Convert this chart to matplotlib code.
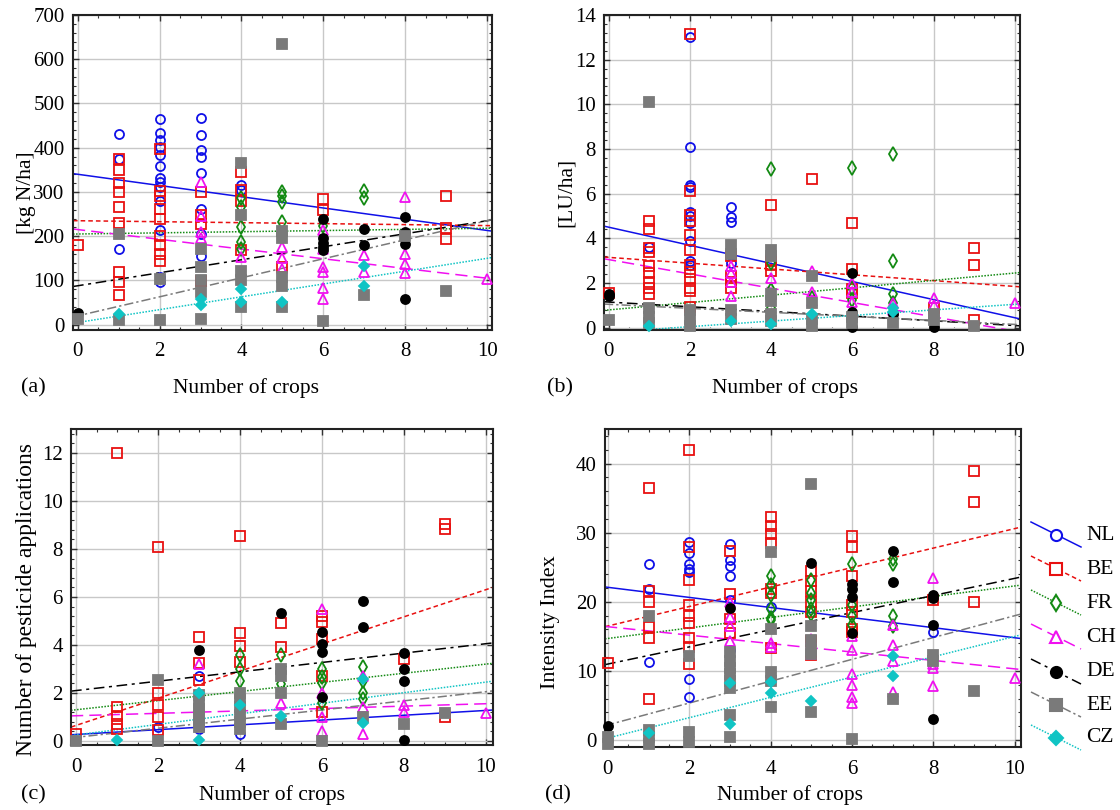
import matplotlib
matplotlib.use("Agg")
import matplotlib.pyplot as plt
import numpy as np
from matplotlib.lines import Line2D
from matplotlib.ticker import MultipleLocator, AutoMinorLocator

plt.rcParams['font.family'] = ['Liberation Serif', 'DejaVu Serif']

countries = ['NL', 'BE', 'FR', 'CH', 'DE', 'EE', 'CZ']

# ---------------- panel (a): kg N/ha ----------------
a_NL = {1: [432, 375, 170], 2: [465, 433, 418, 402, 383, 359, 332, 322, 312, 280, 214, 107, 97],
        3: [468, 428, 395, 380, 342, 262, 205, 155], 4: [315, 305]}
a_BE = {0: [180], 1: [375, 350, 320, 300, 266, 229, 119, 96, 68],
        2: [396, 302, 291, 261, 240, 200, 180, 160, 145], 3: [300, 248, 228, 98],
        4: [345, 305, 280, 168], 5: [130], 6: [283, 260], 9: [290, 218, 193]}
a_FR = {4: [287, 265, 220, 188, 172], 5: [300, 290, 278, 233], 6: [222], 7: [303, 286]}
a_CH = {3: [322, 245, 210, 196], 4: [152], 5: [176, 150, 127], 6: [213, 172, 130, 118, 82, 57],
        7: [157, 120], 8: [289, 160, 137, 116], 10: [103]}
a_DE = {0: [26], 6: [239, 195, 185, 175, 168], 7: [217, 181], 8: [243, 209, 183, 57]}
a_EE = {0: [13], 1: [205, 10], 2: [103, 11], 3: [170, 130, 100, 75, 13], 4: [365, 247, 122, 100, 40],
        5: [634, 212, 195, 107, 88, 40], 6: [8], 7: [66], 8: [200], 9: [76]}
a_CZ = {1: [24], 3: [58, 45], 4: [81, 52], 5: [52], 7: [132, 87]}
a_fit0 = [340, 235, 205, 215, 88, 20, 5]
a_fit10 = [213, 224, 218, 105, 235, 235, 150]

# ---------------- panel (b): LU/ha ----------------
b_NL = {1: [3.6], 2: [13.0, 8.1, 6.4, 6.3, 5.2, 5.0, 4.7, 3.9, 3.0, 2.8], 3: [5.4, 4.95, 4.75, 2.9]}
b_BE = {0: [1.55], 1: [4.8, 4.4, 3.55, 3.4, 2.75, 2.45, 2.05, 1.8, 1.5],
        2: [13.15, 6.1, 5.05, 4.8, 4.15, 3.5, 2.8, 2.5, 2.2, 1.8, 1.65, 0.93],
        3: [3.2, 2.3, 2.05, 1.8], 4: [5.5, 3.05, 2.8, 2.55], 5: [6.65], 6: [4.7, 2.65, 1.75, 1.55],
        8: [0.9], 9: [3.55, 2.8, 0.35]}
b_FR = {4: [7.1, 2.9, 1.7, 0.9], 5: [1.35], 6: [7.15, 1.8, 1.25], 7: [7.8, 3.0, 1.5, 1.1]}
b_CH = {3: [2.75, 2.45, 2.05, 1.4], 4: [2.25], 5: [2.55, 1.6, 1.2], 6: [2.0, 1.6, 1.15],
        7: [1.1, 0.8], 8: [1.35, 1.0], 10: [1.1]}
b_DE = {0: [1.5, 1.4], 6: [2.45, 0.7, 0.05], 7: [0.6], 8: [0.05]}
b_EE = {0: [0.33], 1: [10.1, 0.9, 0.5, 0.2], 2: [0.8, 0.4, 0.1], 3: [3.7, 3.3, 0.8, 0.4],
        4: [3.5, 3.2, 1.5, 1.2, 0.6, 0.3], 5: [2.3, 1.1, 0.4, 0.1], 6: [0.5, 0.2], 7: [0.2],
        8: [0.6, 0.35], 9: [0.1]}
b_CZ = {1: [0.1], 3: [0.3], 4: [0.15], 5: [0.6], 7: [0.9, 0.7]}
b_fit0 = [4.5, 3.15, 0.8, 3.05, 1.15, 1.05, -0.2]
b_fit10 = [0.45, 1.85, 2.45, -0.15, 0.1, 0.15, 1.05]

# ---------------- panel (c): pesticide applications ----------------
c_NL = {2: [0.6], 3: [2.7, 0.5], 4: [0.3]}
c_BE = {0: [0.3], 1: [12.0, 1.4, 1.05, 0.72, 0.5], 2: [8.1, 2.0, 1.5, 1.0, 0.45], 3: [4.35, 3.25, 2.55],
        4: [8.55, 4.5, 3.97, 3.3], 5: [4.93, 3.92], 6: [5.2, 4.97, 4.25, 2.7, 1.2], 8: [3.4],
        9: [9.05, 8.82, 1.0]}
c_FR = {4: [3.57, 3.0, 2.5], 5: [3.57, 2.37], 6: [3.0, 2.65, 2.4, 1.6], 7: [3.1, 2.5, 2.0, 1.75]}
c_CH = {3: [3.2], 5: [1.6], 6: [5.5, 2.0, 1.0, 0.42], 7: [2.7, 1.4, 0.3], 8: [1.5, 1.2], 10: [1.18]}
c_DE = {3: [3.8], 5: [5.35], 6: [4.55, 4.03, 3.7, 1.84], 7: [5.84, 4.75], 8: [3.68, 3.0, 2.5, 0.05]}
c_EE = {0: [0.0], 2: [2.53, 0.0], 3: [1.9, 1.6, 1.35, 1.1, 0.85, 0.6], 4: [2.0, 1.7, 1.4, 1.1, 0.8, 0.5],
        5: [3.0, 2.7, 2.0, 0.7], 6: [0.0], 7: [1.0], 8: [0.7], 9: [1.18]}
c_CZ = {1: [0.05], 3: [2.0, 0.05], 4: [1.5], 5: [1.04], 7: [2.6, 0.74]}
c_fit0 = [0.27, 0.65, 1.3, 1.05, 2.1, 0.15, 0.25]
c_fit10 = [1.27, 6.3, 3.2, 1.55, 4.05, 2.05, 2.45]

# ---------------- panel (d): intensity index ----------------
d_NL = {1: [25.4, 21.9, 11.3], 2: [28.7, 27.0, 25.5, 24.8, 24.3, 8.8, 6.3],
        3: [28.3, 26.0, 25.2, 23.7, 20.3, 13.0], 4: [19.3], 8: [15.7]}
d_BE = {0: [11.2], 1: [36.5, 21.5, 20.0, 16.4, 14.8, 6.0],
        2: [42.0, 28.0, 23.2, 19.5, 18.0, 17.0, 14.8, 13.5, 11.0], 3: [27.4, 21.1, 17.5, 15.5],
        4: [32.3, 31.0, 29.8, 28.5, 21.9, 21.3, 13.3], 5: [24.5, 23.0, 21.5, 20.0, 18.5, 14.3, 12.3],
        6: [29.5, 28.0, 23.7, 19.5, 18.5, 16.0, 15.7], 8: [20.2], 9: [38.9, 34.5, 20.0]}
d_FR = {4: [23.7, 22.4, 21.0, 19.0, 17.7, 17.4], 5: [23.2, 21.3, 20.2, 19.0, 18.2],
        6: [25.4, 19.5, 18.0, 16.7], 7: [26.2, 25.5, 17.9, 16.5]}
d_CH = {3: [20.0, 17.8, 16.5, 14.3], 4: [14.0, 13.4], 5: [14.6, 12.5], 6: [15.0, 13.0, 9.5, 8.0, 6.3, 5.3],
        7: [16.7, 13.8, 11.5, 7.0], 8: [23.5, 11.0, 10.5, 7.8], 10: [9.0]}
d_DE = {0: [2.1], 3: [19.1], 5: [25.6], 6: [22.6, 21.9, 20.7, 15.5], 7: [27.4, 22.8],
        8: [21.0, 20.5, 16.6, 3.0]}
d_EE = {0: [0.5, -0.5], 1: [18.0, 1.5, 0.5, -0.5], 2: [12.2, 1.2, -0.3],
        3: [12.8, 11.5, 10.5, 9.5, 8.5, 7.5, 3.7, 0.4], 4: [27.2, 16.0, 9.8, 8.5, 4.8],
        5: [37.0, 16.5, 14.5, 13.0, 12.5, 4.1], 6: [0.2], 7: [6.0], 8: [12.3, 11.5], 9: [7.1]}
d_CZ = {1: [1.0], 3: [8.2, 2.3], 4: [8.4, 6.8], 5: [5.6], 7: [12.2, 9.3]}
d_fit0 = [22.1, 16.5, 14.7, 16.4, 11.0, 2.2, 0.3]
d_fit10 = [14.8, 30.6, 22.3, 10.3, 23.4, 18.0, 15.0]

x_ticks = [0, 2, 4, 6, 8, 10]

# ---------------- styles ----------------
colors = ['#1010e8', '#e81010', '#138a13', '#f010f0', '#000000', '#7a7a7a', '#10c4c4']
markers = ['o', 's', 'd', '^', 'o', 's', 'D']
filled = [False, False, False, False, True, True, True]
msizes = [6.5, 6.5, 7, 7, 6.5, 7, 5.5]
dashes = [None, (3, 2), (1, 1), (8, 4), (7, 3, 2, 3), (6, 2, 1.5, 2), (1, 1)]

fig = plt.figure(figsize=(11.2, 8.1), dpi=100)
W, H = 1120.0, 810.0


def px_axes(l, t, r, b):
    return fig.add_axes([l / W, 1 - b / H, (r - l) / W, (b - t) / H])


panels = [
    dict(data=[a_NL, a_BE, a_FR, a_CH, a_DE, a_EE, a_CZ], f0=a_fit0, f10=a_fit10,
         box=(73, 15, 492, 330), xlim=(-0.115, 10.12), ylim=(-12, 700), ystep=100,
         ylabel='[kg N/ha]', ylab_xy=(27, 193), ylab_fs=15.5, tag='(a)', tag_xy=(33, 388),
         xlab_xy=(246, 388)),
    dict(data=[b_NL, b_BE, b_FR, b_CH, b_DE, b_EE, b_CZ], f0=b_fit0, f10=b_fit10,
         box=(604, 15, 1020, 330), xlim=(-0.12, 10.13), ylim=(-0.1, 14), ystep=2,
         ylabel='[LU/ha]', ylab_xy=(566, 192), ylab_fs=15.5, tag='(b)', tag_xy=(560, 388),
         xlab_xy=(785, 388)),
    dict(data=[c_NL, c_BE, c_FR, c_CH, c_DE, c_EE, c_CZ], f0=c_fit0, f10=c_fit10,
         box=(71, 429, 493, 745), xlim=(-0.13, 10.18), ylim=(-0.17, 13), ystep=2,
         ylabel='Number of pesticide applications', ylab_xy=(27, 600), ylab_fs=17, tag='(c)',
         tag_xy=(33, 795), xlab_xy=(272, 795)),
    dict(data=[d_NL, d_BE, d_FR, d_CH, d_DE, d_EE, d_CZ], f0=d_fit0, f10=d_fit10,
         box=(605, 429, 1021, 747), xlim=(-0.07, 10.15), ylim=(-1, 45), ystep=10,
         ylabel='Intensity Index', ylab_xy=(550, 622), ylab_fs=16, tag='(d)', tag_xy=(558, 795),
         xlab_xy=(790, 795)),
]

for p in panels:
    ax = px_axes(*p['box'])
    ax.set_xlim(*p['xlim'])
    ax.set_ylim(*p['ylim'])
    ax.yaxis.set_major_locator(MultipleLocator(p['ystep']))
    ax.set_xticks(x_ticks)
    ax.xaxis.set_minor_locator(AutoMinorLocator(4))
    ax.yaxis.set_minor_locator(AutoMinorLocator(5))
    ax.grid(True, which='major', color='#c8c8c8', lw=1.0, zorder=0)
    ax.set_axisbelow(True)
    ax.tick_params(which='both', direction='in', top=True, right=True, labelsize=15, color='#333333')
    ax.tick_params(which='major', length=4, width=1)
    ax.tick_params(which='minor', length=2, width=0.8)
    ax.tick_params(axis='x', pad=9)
    ax.tick_params(axis='y', pad=6)
    for s in ax.spines.values():
        s.set_linewidth(1.5)
        s.set_color('#222222')

    # regression lines
    xx = np.array(p['xlim'])
    for i in range(len(countries)):
        yy = p['f0'][i] + (p['f10'][i] - p['f0'][i]) * xx / 10.0
        ln, = ax.plot(xx, yy, color=colors[i], lw=1.1, zorder=2)
        if dashes[i] is not None:
            ln.set_dashes(dashes[i])

    # points
    for i, dd in enumerate(p['data']):
        xs, ys = [], []
        for k, vals in dd.items():
            xs += [k] * len(vals)
            ys += vals
        ax.plot(xs, ys, ls='none', marker=markers[i], ms=msizes[i],
                mfc=colors[i] if filled[i] else 'none', mec=colors[i], mew=1.3,
                zorder=3, clip_on=False)

    fig.text(p['ylab_xy'][0] / W, 1 - p['ylab_xy'][1] / H, p['ylabel'], rotation=90,
             ha='center', va='center', fontsize=p['ylab_fs'])
    fig.text(p['tag_xy'][0] / W, 1 - p['tag_xy'][1] / H, p['tag'], ha='center', va='center',
             fontsize=16)
    fig.text(p['xlab_xy'][0] / W, 1 - p['xlab_xy'][1] / H, 'Number of crops', ha='center',
             va='center', fontsize=15.5)

# ---------------- legend (diagonal handles) ----------------
leg_y = [535, 569, 603, 637, 672, 705, 738]
for i, c in enumerate(countries):
    yc = leg_y[i]
    ln = Line2D([1031 / W, 1081 / W], [1 - (yc - 13) / H, 1 - (yc + 12) / H],
                transform=fig.transFigure, color=colors[i], lw=1.1)
    if dashes[i] is not None:
        ln.set_dashes(dashes[i])
    fig.add_artist(ln)
    mk = Line2D([1056 / W], [1 - yc / H], transform=fig.transFigure, ls='none', marker=markers[i],
                ms=msizes[i] + 1.5, mfc=colors[i] if filled[i] else 'white', mec=colors[i], mew=1.5)
    fig.add_artist(mk)
    fig.text(1086 / W, 1 - yc / H, c, ha='left', va='center', fontsize=15.5)

fig.savefig('out.png', dpi=100)
